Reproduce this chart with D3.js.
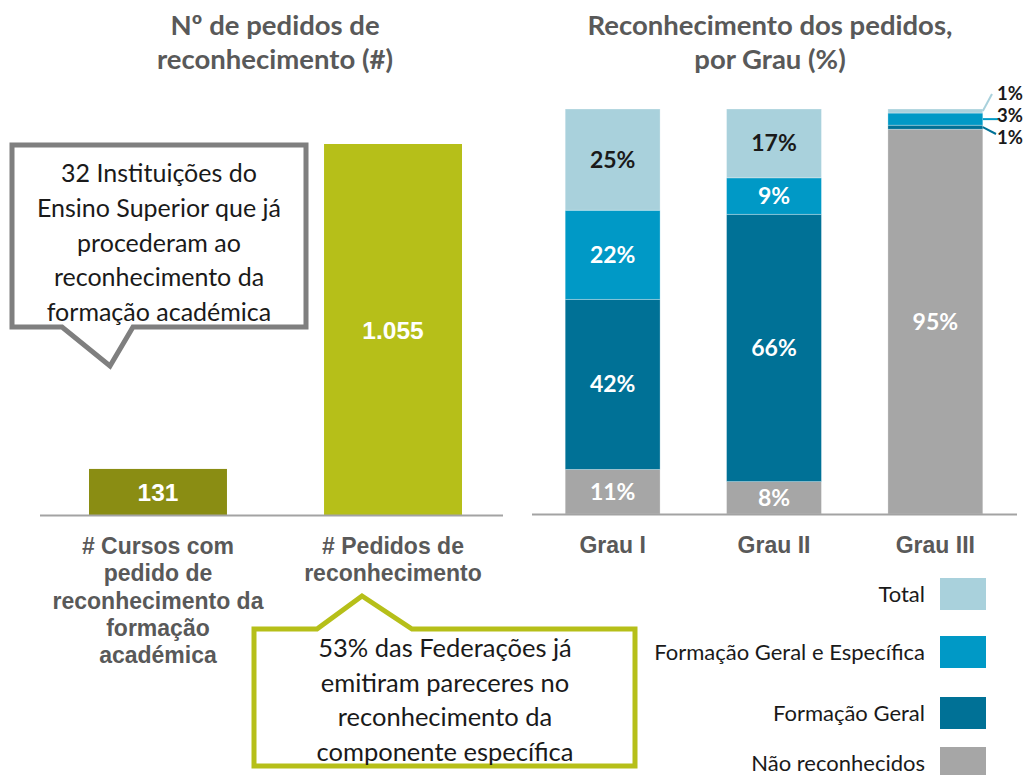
<!DOCTYPE html>
<html>
<head>
<meta charset="utf-8">
<script src="https://cdn.jsdelivr.net/npm/d3@7"></script>
<style>
  html, body { margin: 0; padding: 0; background: #fff; }
  svg { display: block; }
</style>
</head>
<body>
<svg id="chart" width="1028" height="775"></svg>
<script>
// ---- Left chart: request counts ----
const countCategories = ["# Cursos com pedido de reconhecimento da formação académica", "# Pedidos de reconhecimento"];
const countLabelLines = [["# Cursos com", "pedido de", "reconhecimento da", "formação", "académica"], ["# Pedidos de", "reconhecimento"]];
const countValues = [131, 1055];
const countValueLabels = ["131", "1.055"];
const countColors = ["#8a8d13", "#b6bf19"];

// ---- Right chart: recognition by degree (%) ----
const grades = ["Grau I", "Grau II", "Grau III"];
const seriesNames = ["Não reconhecidos", "Formação Geral", "Formação Geral e Específica", "Total"];
const naoReconhecidos = [11, 8, 95];
const formacaoGeral = [42, 66, 1];
const formacaoGeralEspecifica = [22, 9, 3];
const totalRecon = [25, 17, 1];
const seriesColors = ["#a6a6a6", "#007196", "#0099c6", "#a9d1dc"];
const seriesTextColors = ["#ffffff", "#ffffff", "#ffffff", "#1a1a1a"];

const leftTitle = ["Nº de pedidos de", "reconhecimento (#)"];
const rightTitle = ["Reconhecimento dos pedidos,", "por Grau (%)"];
const calloutGray = ["32 Instituições do", "Ensino Superior que já", "procederam ao", "reconhecimento da", "formação académica"];
const calloutGreen = ["53% das Federações já", "emitiram pareceres no", "reconhecimento da", "componente específica"];

const svg = d3.select("#chart");
const arialBold = "'Liberation Sans', Arial, sans-serif";
const calibri = "Lato, 'Open Sans', sans-serif";
const titleGray = "#595959";

// ---------- Left chart ----------
const xL = d3.scaleBand().domain(countCategories).range([42, 509]).paddingInner(0.413).paddingOuter(0.2);
const yL = d3.scaleLinear().domain([0, 1055]).range([515, 144]);

svg.append("g").selectAll("text").data(leftTitle).join("text")
  .attr("x", 275).attr("y", (d, i) => 35 + i * 34)
  .attr("text-anchor", "middle")
  .style("font-family", calibri).style("font-weight", 700).style("font-size", "27.5px")
  .style("fill", titleGray).text(d => d);

svg.append("g").selectAll("rect").data(countValues).join("rect")
  .attr("x", (d, i) => xL(countCategories[i]))
  .attr("width", xL.bandwidth())
  .attr("y", d => yL(d))
  .attr("height", d => yL(0) - yL(d))
  .attr("fill", (d, i) => countColors[i]);

svg.append("line").attr("x1", 40).attr("x2", 503).attr("y1", yL(0) + 0.5).attr("y2", yL(0) + 0.5)
  .attr("stroke", "#a3a3a3").attr("stroke-width", 2);

svg.append("g").selectAll("text").data(countValues).join("text")
  .attr("x", (d, i) => xL(countCategories[i]) + xL.bandwidth() / 2)
  .attr("y", d => (yL(d) + yL(0)) / 2 + 9)
  .attr("text-anchor", "middle")
  .style("font-family", arialBold).style("font-weight", 700).style("font-size", "24.5px")
  .style("fill", "#fff").text((d, i) => countValueLabels[i]);

countLabelLines.forEach((lines, i) => {
  svg.append("g").selectAll("text").data(lines).join("text")
    .attr("x", xL(countCategories[i]) + xL.bandwidth() / 2)
    .attr("y", (d, j) => 554 + j * 27.3)
    .attr("text-anchor", "middle")
    .style("font-family", arialBold).style("font-weight", 700).style("font-size", "23px")
    .style("fill", titleGray).text(d => d);
});

// Gray speech bubble
const grayBubble = d3.path();
grayBubble.moveTo(12, 145); grayBubble.lineTo(306, 145); grayBubble.lineTo(306, 327);
grayBubble.lineTo(133, 327); grayBubble.lineTo(110, 366); grayBubble.lineTo(62, 327);
grayBubble.lineTo(12, 327); grayBubble.closePath();
svg.append("path").attr("d", grayBubble.toString())
  .attr("fill", "#fff").attr("stroke", "#7f7f7f").attr("stroke-width", 5).attr("stroke-linejoin", "miter");
svg.append("g").selectAll("text").data(calloutGray).join("text")
  .attr("x", 159).attr("y", (d, i) => 182 + i * 34.8)
  .attr("text-anchor", "middle")
  .style("font-family", calibri).style("font-size", "25px").style("fill", "#1a1a1a").text(d => d);

// Green speech bubble
const greenBubble = d3.path();
greenBubble.moveTo(254, 629); greenBubble.lineTo(317, 629); greenBubble.lineTo(362, 596);
greenBubble.lineTo(412, 629); greenBubble.lineTo(635, 629); greenBubble.lineTo(635, 766);
greenBubble.lineTo(254, 766); greenBubble.closePath();
svg.append("path").attr("d", greenBubble.toString())
  .attr("fill", "#fff").attr("stroke", "#b6bf19").attr("stroke-width", 5).attr("stroke-linejoin", "miter");
svg.append("g").selectAll("text").data(calloutGreen).join("text")
  .attr("x", 445).attr("y", (d, i) => 657 + i * 34.5)
  .attr("text-anchor", "middle")
  .style("font-family", calibri).style("font-size", "25.5px").style("fill", "#1a1a1a").text(d => d);

// ---------- Right chart ----------
const xR = d3.scaleBand().domain(grades).range([541, 1007]).paddingInner(0.412).paddingOuter(0.15);
const yR = d3.scaleLinear().domain([0, 100]).range([514, 109]);

svg.append("g").selectAll("text").data(rightTitle).join("text")
  .attr("x", 770).attr("y", (d, i) => 35 + i * 34)
  .attr("text-anchor", "middle")
  .style("font-family", calibri).style("font-weight", 700).style("font-size", "27.5px")
  .style("fill", titleGray).text(d => d);

const table = grades.map((g, i) => ({
  grade: g,
  "Não reconhecidos": naoReconhecidos[i],
  "Formação Geral": formacaoGeral[i],
  "Formação Geral e Específica": formacaoGeralEspecifica[i],
  "Total": totalRecon[i]
}));
const stacked = d3.stack().keys(seriesNames)(table);

const layers = svg.append("g").selectAll("g").data(stacked).join("g")
  .attr("fill", (d, i) => seriesColors[i]);
layers.selectAll("rect").data(d => d).join("rect")
  .attr("x", d => xR(d.data.grade))
  .attr("width", xR.bandwidth())
  .attr("y", d => yR(d[1]))
  .attr("height", d => yR(d[0]) - yR(d[1]))
  .attr("stroke", "rgba(255,255,255,0.35)").attr("stroke-width", 0.8);

svg.append("line").attr("x1", 532).attr("x2", 1017).attr("y1", yR(0) + 0.5).attr("y2", yR(0) + 0.5)
  .attr("stroke", "#a3a3a3").attr("stroke-width", 2);

// Labels inside segments large enough to hold them
stacked.forEach((layer, si) => {
  svg.append("g").selectAll("text").data(layer.filter(d => d[1] - d[0] >= 5)).join("text")
    .attr("x", d => xR(d.data.grade) + xR.bandwidth() / 2)
    .attr("y", d => (yR(d[0]) + yR(d[1])) / 2 + 8)
    .attr("text-anchor", "middle")
    .style("font-family", calibri).style("font-weight", 700).style("font-size", "23px")
    .style("fill", seriesTextColors[si])
    .text(d => (d[1] - d[0]) + "%");
});

// Leader-line labels for the thin Grau III segments
const g3 = grades[2];
const g3Right = xR(g3) + xR.bandwidth();
const thin = [
  { si: 3, ty: 93, lineEnd: [992, 94] },
  { si: 2, ty: 115, lineEnd: [998, null] },
  { si: 1, ty: 137, lineEnd: [996, 134] }
];
thin.forEach(t => {
  const seg = stacked[t.si][2];
  const mid = (yR(seg[0]) + yR(seg[1])) / 2;
  const endY = t.lineEnd[1] === null ? mid : t.lineEnd[1];
  svg.append("line").attr("x1", g3Right).attr("y1", mid).attr("x2", t.lineEnd[0]).attr("y2", endY)
    .attr("stroke", seriesColors[t.si]).attr("stroke-width", 2);
  svg.append("text").attr("x", 997).attr("y", t.ty + 6.5)
    .style("font-family", calibri).style("font-weight", 700).style("font-size", "18.5px")
    .style("fill", "#1a1a1a").text((seg[1] - seg[0]) + "%");
});

svg.append("g").selectAll("text").data(grades).join("text")
  .attr("x", d => xR(d) + xR.bandwidth() / 2)
  .attr("y", 553)
  .attr("text-anchor", "middle")
  .style("font-family", arialBold).style("font-weight", 700).style("font-size", "23px")
  .style("fill", titleGray).text(d => d);

// Legend
const legendOrder = ["Total", "Formação Geral e Específica", "Formação Geral", "Não reconhecidos"];
const legendY = [578, 636, 697, 747];
const legend = svg.append("g").selectAll("g").data(legendOrder).join("g")
  .attr("transform", (d, i) => `translate(0,${legendY[i]})`);
legend.append("rect").attr("x", 940).attr("width", 46).attr("height", 32)
  .attr("fill", d => seriesColors[seriesNames.indexOf(d)]);
legend.append("text").attr("x", 925).attr("y", 23.5).attr("text-anchor", "end")
  .style("font-family", calibri).style("font-size", "22px").style("fill", "#1a1a1a").text(d => d);
</script>
</body>
</html>
